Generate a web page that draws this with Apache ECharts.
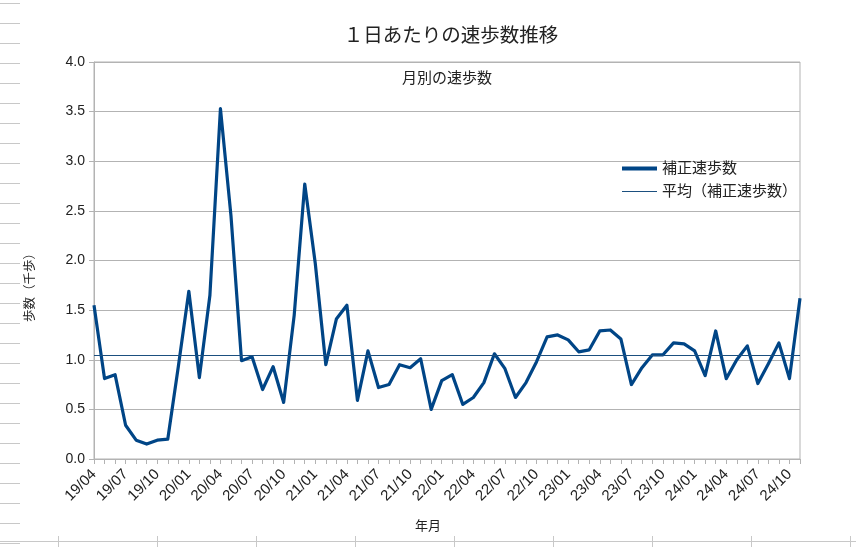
<!DOCTYPE html>
<html>
<head>
<meta charset="utf-8">
<script src="https://cdn.jsdelivr.net/npm/echarts@6/dist/echarts.min.js"></script>
<style>html,body{margin:0;padding:0;background:#fff}#c{width:856px;height:547px}</style>
</head>
<body>
<div id="c"></div>
<script>
const months = ["19/04","19/05","19/06","19/07","19/08","19/09","19/10","19/11","19/12",
"20/01","20/02","20/03","20/04","20/05","20/06","20/07","20/08","20/09","20/10","20/11","20/12",
"21/01","21/02","21/03","21/04","21/05","21/06","21/07","21/08","21/09","21/10","21/11","21/12",
"22/01","22/02","22/03","22/04","22/05","22/06","22/07","22/08","22/09","22/10","22/11","22/12",
"23/01","23/02","23/03","23/04","23/05","23/06","23/07","23/08","23/09","23/10","23/11","23/12",
"24/01","24/02","24/03","24/04","24/05","24/06","24/07","24/08","24/09","24/10","24/11"];
const steps = [1.55,0.81,0.85,0.34,0.19,0.15,0.19,0.20,0.93,
1.69,0.82,1.65,3.53,2.45,0.99,1.03,0.70,0.93,0.57,1.45,2.77,
1.97,0.95,1.41,1.55,0.59,1.09,0.72,0.75,0.95,0.92,1.01,0.50,
0.79,0.85,0.55,0.62,0.77,1.06,0.91,0.62,0.77,0.98,1.23,1.25,
1.20,1.08,1.10,1.29,1.30,1.21,0.75,0.92,1.05,1.05,1.17,1.16,
1.09,0.84,1.29,0.81,1.00,1.14,0.76,0.96,1.17,0.81,1.62];
const averageValue = [1.05];
const seriesNames = ["補正速歩数","平均（補正速歩数）"];

const FONT = "'Liberation Sans','Noto Sans CJK JP',sans-serif";
const chart = echarts.init(document.getElementById('c'));

const deco = [];
for (let y = 3; y <= 543; y += 20) {
  deco.push({type:'line', shape:{x1:0,y1:y+0.5,x2:20,y2:y+0.5}, style:{stroke:'#c8c8c8',lineWidth:1}, silent:true});
}
deco.push({type:'line', shape:{x1:0,y1:541.5,x2:856,y2:541.5}, style:{stroke:'#c8c8c8',lineWidth:1}, silent:true});
[58,157,256,355,454,553,652,751,850].forEach(x=>{
  deco.push({type:'line', shape:{x1:x+0.5,y1:536,x2:x+0.5,y2:547}, style:{stroke:'#c8c8c8',lineWidth:1}, silent:true});
});

chart.setOption({
  animation:false,
  textStyle:{fontFamily:FONT},
  title:[
    {text:'１日あたりの速歩数推移', left:446, textAlign:'center', top:22, textStyle:{fontSize:19.5, fontWeight:'normal', color:'#222', fontFamily:FONT}},
    {text:'月別の速歩数', left:442, textAlign:'center', top:66, textStyle:{fontSize:15, fontWeight:'normal', color:'#222', fontFamily:FONT}}
  ],
  graphic: deco,
  legend:{
    orient:'vertical', left:617, top:156, itemWidth:35, itemHeight:14, itemGap:8,
    textStyle:{fontSize:15, color:'#222', fontFamily:FONT},
    data:[
      {name:seriesNames[0], icon:'path://M0,0 L35,0 L35,4 L0,4 Z', itemStyle:{color:'#004586'}},
      {name:seriesNames[1], icon:'path://M0,0 L35,0 L35,1.2 L0,1.2 Z', itemStyle:{color:'#1b4f7f'}}
    ]
  },
  grid:{left:94, right:56, top:62, bottom:88, show:true, borderColor:'#b3b3b3', borderWidth:1},
  xAxis:{
    type:'category', data:months, boundaryGap:false,
    name:'年月', nameLocation:'middle', nameGap:61,
    nameTextStyle:{fontSize:13, color:'#222', fontFamily:FONT, padding:[0,38,0,0]},
    axisLine:{lineStyle:{color:'#b3b3b3'}},
    axisTick:{show:true, interval:0, length:5, inside:false, lineStyle:{color:'#b3b3b3'}},
    axisLabel:{interval:2, rotate:45, fontSize:15, color:'#222', margin:13, fontFamily:FONT},
    splitLine:{show:false}
  },
  yAxis:{
    type:'value', min:0, max:4, interval:0.5,
    name:'歩数（千歩）', nameLocation:'middle', nameGap:57, nameRotate:90,
    nameTextStyle:{fontSize:12.5, color:'#222', fontFamily:FONT, padding:[0,48,0,0]},
    axisLine:{show:true, lineStyle:{color:'#b3b3b3'}},
    axisTick:{show:true, length:5, lineStyle:{color:'#b3b3b3'}},
    axisLabel:{fontSize:14, color:'#222', margin:9, formatter:v=>v.toFixed(1), fontFamily:FONT},
    splitLine:{show:true, lineStyle:{color:'#b3b3b3'}}
  },
  series:[
    {name:seriesNames[0], type:'line', data:steps, symbol:'none', smooth:false,
     lineStyle:{color:'#004586', width:3.2, join:'round'}, itemStyle:{color:'#004586'}, z:3},
    {name:seriesNames[1], type:'line', data:[], symbol:'none',
     lineStyle:{color:'#1b4f7f', width:1}, itemStyle:{color:'#1b4f7f'},
     markLine:{silent:true, symbol:'none', label:{show:false},
       lineStyle:{color:'#1b4f7f', width:1, type:'solid'},
       data:[{yAxis:averageValue[0]}]}, z:2}
  ]
});
</script>
</body>
</html>
